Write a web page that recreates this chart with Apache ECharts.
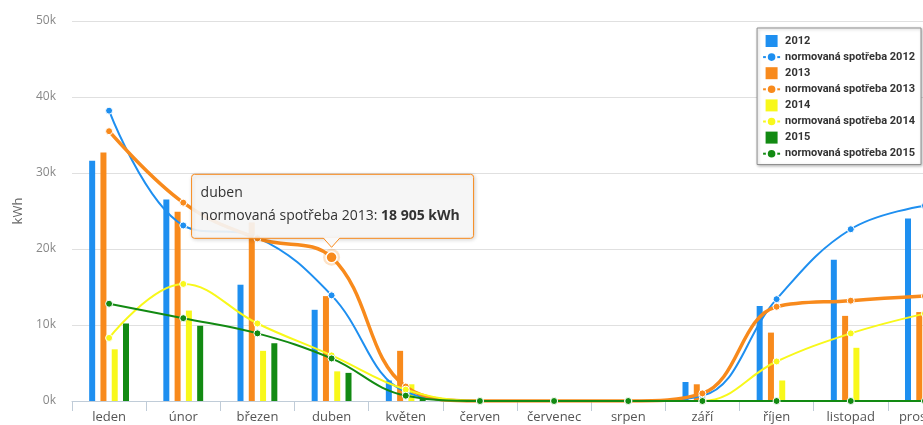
<!DOCTYPE html>
<html>
<head>
<meta charset="utf-8">
<script src="https://cdn.jsdelivr.net/npm/echarts@6/dist/echarts.min.js"></script>
<style>
html,body{margin:0;padding:0;background:#fff;overflow:hidden;}
#wrap{width:923px;height:425px;overflow:hidden;}
#main{width:970px;height:425px;}
</style>
</head>
<body>
<div id="wrap"><div id="main"></div></div>
<script>
const categories = ['leden','únor','březen','duben','květen','červen','červenec','srpen','září','říjen','listopad','prosinec'];
const yTicks = [0, 10000, 20000, 30000, 40000, 50000];

const cons2012 = [31600, 26500, 15300, 12000, 2700, 0, 0, 0, 2500, 12500, 18600, 24000];
const cons2013 = [32700, 24900, 23500, 13800, 6600, 0, 0, 0, 2200, 9000, 11200, 11700];
const cons2014 = [6800, 11900, 6600, 3900, 2200, 0, 0, 0, 0, 2700, 7000, 9000];
const cons2015 = [10200, 9900, 7600, 3700, 600, null, null, null, null, null, null, null];

const norm2012 = [38200, 23100, 21500, 13900, 1200, 0, 0, 0, 700, 13400, 22600, 25700];
const norm2013 = [35500, 26100, 21400, 18905, 1900, 0, 0, 0, 1000, 12400, 13200, 13800];
const norm2014 = [8300, 15400, 10200, 6000, 1500, 0, 0, 0, 0, 5200, 8900, 11500];
const norm2015 = [12800, 10900, 8900, 5600, 700, 0, 0, 0, 0, 0, 0, 0];

const hoverIndex = 3;

const C = {b:'#1e8ff0', o:'#f88a1c', y:'#f8f81a', g:'#128a12'};
const FONT = 'Open Sans';

function barSeries(name, data, color) {
  return {name, type:'bar', data, barWidth:6, barGap:'88%', itemStyle:{color}, z:2};
}
function lineSeries(name, data, color, width) {
  return {name, type:'line', data, smooth:0.4, symbol:'circle', symbolSize:7, showAllSymbol:true,
    lineStyle:{color, width}, itemStyle:{color, borderColor:'#fff', borderWidth:1}, z:3};
}

const n2013data = norm2013.map((v,i)=> i===hoverIndex ? {value:v, symbolSize:11, itemStyle:{color:C.o, borderColor:'#fff', borderWidth:1.5}} : v);

const sq = 'path://M0,0h10v10h-10z';
const option = {
  animation:false,
  textStyle:{fontFamily:FONT},
  grid:{left:72, top:21, width:890, bottom:24, containLabel:false},
  legend:{
    orient:'vertical', right:49, top:28, padding:[7,6,5,5], itemGap:4.3,
    itemWidth:17, itemHeight:12,
    backgroundColor:'#fff', borderColor:'#909090', borderWidth:1,
    shadowColor:'rgba(0,0,0,0.25)', shadowBlur:3, shadowOffsetX:1, shadowOffsetY:1,
    textStyle:{fontFamily:'Roboto', fontSize:11, fontWeight:'bold', color:'#333'},
    data:[
      {name:'2012', icon:sq}, 'normovaná spotřeba 2012',
      {name:'2013', icon:sq}, 'normovaná spotřeba 2013',
      {name:'2014', icon:sq}, 'normovaná spotřeba 2014',
      {name:'2015', icon:sq}, 'normovaná spotřeba 2015'
    ]
  },
  xAxis:{
    type:'category', data:categories, boundaryGap:true,
    axisLine:{lineStyle:{color:'#c0ccd8'}},
    axisTick:{show:true, length:10, lineStyle:{color:'#c0ccd8'}},
    axisLabel:{fontFamily:FONT, fontSize:13, color:'#555', margin:10, interval:0}
  },
  yAxis:{
    type:'value', min:yTicks[0], max:yTicks[yTicks.length-1], interval:yTicks[1]-yTicks[0],
    name:'kWh', nameLocation:'middle', nameGap:46, nameRotate:90,
    nameTextStyle:{fontFamily:FONT, fontSize:13, color:'#666'},
    axisLine:{show:false}, axisTick:{show:false},
    axisLabel:{fontFamily:FONT, fontSize:12, color:'#888', margin:16, formatter:v=>(v/1000)+'k'},
    splitLine:{lineStyle:{color:'#e0e0e0'}}
  },
  series:[
    barSeries('2012', cons2012, C.b),
    lineSeries('normovaná spotřeba 2012', norm2012, C.b, 2),
    barSeries('2013', cons2013, C.o),
    lineSeries('normovaná spotřeba 2013', n2013data, C.o, 3.5),
    barSeries('2014', cons2014, C.y),
    lineSeries('normovaná spotřeba 2014', norm2014, C.y, 2),
    barSeries('2015', cons2015, C.g),
    lineSeries('normovaná spotřeba 2015', norm2015, C.g, 2)
  ]
};

const chart = echarts.init(document.getElementById('main'), null, {renderer:'canvas'});
chart.setOption(option);

const p = chart.convertToPixel({xAxisIndex:0, yAxisIndex:0}, [categories[hoverIndex], norm2013[hoverIndex]]);
const px = p[0], py = p[1];
const bw = 282, bh = 64;
const bx = px - 140, by = py - 83;
const tipY = py - 10, baseY = by + bh;
const fmt = v => String(v).replace(/\B(?=(\d{3})+(?!\d))/g, ' ');
const boxFill = 'rgba(249,249,249,0.9)';

chart.setOption({
  graphic:[
    {type:'circle', shape:{cx:px, cy:py, r:8.5}, style:{fill:'rgba(248,138,28,0.25)'}, z:1, silent:true},
    {type:'rect', shape:{x:bx, y:by, width:bw, height:bh, r:3}, z:100, silent:true,
      style:{fill:boxFill, stroke:C.o, lineWidth:1,
        shadowColor:'rgba(0,0,0,0.18)', shadowBlur:4, shadowOffsetX:1, shadowOffsetY:1}},
    {type:'polygon', shape:{points:[[px-8.5, baseY-1], [px+8.5, baseY-1], [px, tipY]]}, z:101, silent:true,
      style:{fill:'rgb(249,249,249)'}},
    {type:'polyline', shape:{points:[[px-8, baseY], [px, tipY], [px+8, baseY]]}, z:102, silent:true,
      style:{stroke:C.o, lineWidth:1, fill:null}},
    {type:'text', x:bx+9, y:by+19, z:103, silent:true,
      style:{text:categories[hoverIndex], font:`14px "${FONT}"`, fill:'#333', verticalAlign:'middle'}},
    {type:'text', x:bx+9, y:by+42, z:103, silent:true,
      style:{text:'{n|normovaná spotřeba 2013: }{b|'+fmt(norm2013[hoverIndex])+' kWh}', verticalAlign:'middle',
        rich:{n:{fontFamily:FONT, fontSize:14, fill:'#333', color:'#333'}, b:{fontFamily:FONT, fontSize:14, fontWeight:'bold', fill:'#333', color:'#333'}}}}
  ]
});
</script>
</body>
</html>
